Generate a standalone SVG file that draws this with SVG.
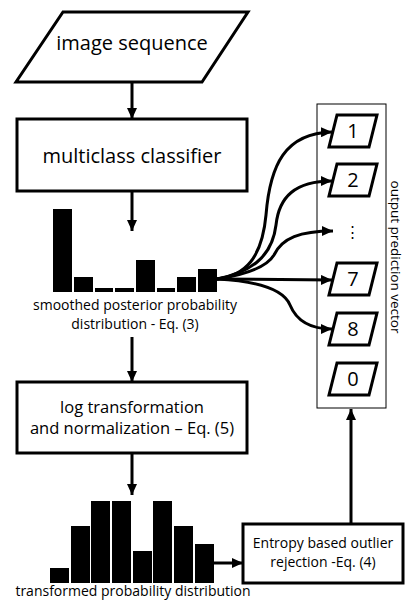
<svg xmlns="http://www.w3.org/2000/svg" width="406" height="602" viewBox="0 0 406 602">
<style>
.s{fill:#fff;stroke:#000;stroke-width:3}
.thin{fill:#fff;stroke:#000;stroke-width:1}
.t{font-family:"Open Sans","Noto Sans","Liberation Sans",sans-serif;fill:#000;text-anchor:middle}
.c{fill:none;stroke:#000;stroke-width:3}
.bar{fill:#000}
</style>
<defs>
<marker id="ah" markerUnits="userSpaceOnUse" markerWidth="12" markerHeight="10" refX="11" refY="5" orient="auto">
<path d="M0,0 L11,5 L0,10 Z" fill="#000"/>
</marker>
</defs>
<g id="image-sequence">
<polygon class="s" points="63,12 248,12 202,82 16,82"/>
<text class="t" x="132" y="50" font-size="20">image sequence</text>
</g>
<g id="multiclass-classifier">
<rect class="s" x="17" y="119" width="230" height="72"/>
<text class="t" x="132" y="163" font-size="20">multiclass classifier</text>
</g>
<g id="smoothed-histogram">
<rect class="bar" x="53" y="209" width="19" height="83"/>
<rect class="bar" x="74" y="277" width="19" height="15"/>
<rect class="bar" x="95" y="288" width="18" height="4"/>
<rect class="bar" x="115" y="288" width="19" height="4"/>
<rect class="bar" x="136" y="260" width="19" height="32"/>
<rect class="bar" x="157" y="288" width="18" height="4"/>
<rect class="bar" x="177" y="277" width="19" height="15"/>
<rect class="bar" x="198" y="269" width="19" height="23"/>
<text class="t" x="135" y="310" font-size="14">smoothed posterior probability</text>
<text class="t" x="135" y="329" font-size="14">distribution - Eq. (3)</text>
</g>
<g id="log-transformation">
<rect class="s" x="17" y="382" width="230" height="71"/>
<text class="t" x="132" y="413" font-size="16.5">log transformation</text>
<text class="t" x="132" y="434" font-size="16.5">and normalization – Eq. (5)</text>
</g>
<g id="transformed-histogram">
<rect class="bar" x="50" y="568" width="19" height="15"/>
<rect class="bar" x="71" y="526" width="19" height="57"/>
<rect class="bar" x="91" y="501" width="19" height="82"/>
<rect class="bar" x="112" y="501" width="19" height="82"/>
<rect class="bar" x="133" y="551" width="19" height="32"/>
<rect class="bar" x="153" y="501" width="19" height="82"/>
<rect class="bar" x="174" y="526" width="19" height="57"/>
<rect class="bar" x="195" y="544" width="19" height="39"/>
<text class="t" x="133" y="596" font-size="14">transformed probability distribution</text>
</g>
<g id="entropy-rejection">
<rect class="s" x="243" y="524" width="160" height="59"/>
<text class="t" x="323" y="548" font-size="14">Entropy based outlier</text>
<text class="t" x="323" y="567" font-size="14">rejection -Eq. (4)</text>
</g>
<g id="output-prediction-vector">
<rect class="thin" x="317" y="104" width="69" height="304"/>
<text class="t" x="0" y="0" font-size="13.5" transform="translate(391,257) rotate(90)">output prediction vector</text>
</g>
<g id="out-1">
<polygon class="s" points="337,115 377,115 369,147 329,147"/>
<text class="t" x="353" y="138" font-size="20">1</text>
</g>
<g id="out-2">
<polygon class="s" points="337,164 377,164 369,196 329,196"/>
<text class="t" x="353" y="187" font-size="20">2</text>
</g>
<g id="out-dots">
<text class="t" x="352" y="237" font-size="15">⋮</text>
</g>
<g id="out-7">
<polygon class="s" points="337,263 377,263 369,295 329,295"/>
<text class="t" x="353" y="286" font-size="20">7</text>
</g>
<g id="out-8">
<polygon class="s" points="337,313 377,313 369,345 329,345"/>
<text class="t" x="353" y="336" font-size="20">8</text>
</g>
<g id="out-0">
<polygon class="s" points="337,363 377,363 369,395 329,395"/>
<text class="t" x="353" y="386" font-size="20">0</text>
</g>
<g id="connectors">
<line class="c" x1="132" y1="82" x2="132" y2="119" marker-end="url(#ah)"/>
<line class="c" x1="132" y1="191" x2="132" y2="231" marker-end="url(#ah)"/>
<line class="c" x1="132" y1="337" x2="132" y2="382" marker-end="url(#ah)"/>
<line class="c" x1="132" y1="453" x2="132" y2="495" marker-end="url(#ah)"/>
<line class="c" x1="214" y1="563" x2="243" y2="563" marker-end="url(#ah)"/>
<line class="c" x1="351" y1="524" x2="351" y2="409" marker-end="url(#ah)"/>
<path class="c" d="M217,279 C245,276 262,258 266,215 C270,165 285,133 332,132" marker-end="url(#ah)"/>
<path class="c" d="M217,279 C250,272 272,258 276,225 C279,197 295,181 332,181" marker-end="url(#ah)"/>
<path class="c" d="M217,279 C250,274 268,265 274,255 C282,238 300,231 333,231" marker-end="url(#ah)"/>
<path class="c" d="M217,279 L332,280" marker-end="url(#ah)"/>
<path class="c" d="M217,279 C255,281 283,288 290,305 C297,322 312,329 332,329" marker-end="url(#ah)"/>
</g>
</svg>
